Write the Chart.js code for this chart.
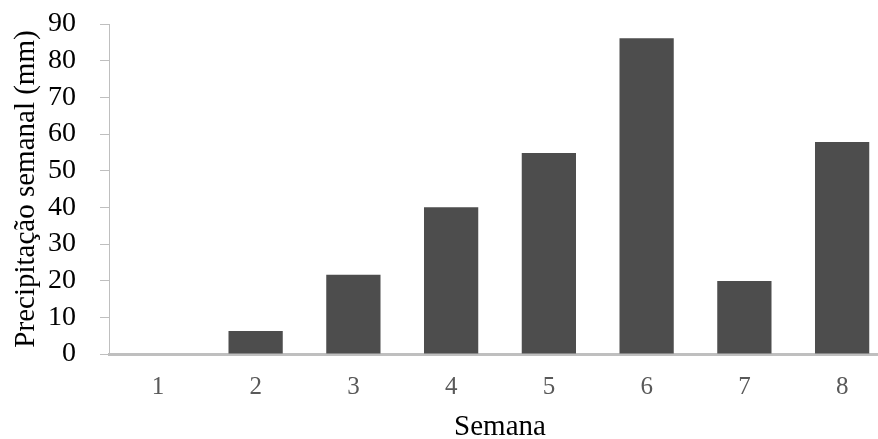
<!DOCTYPE html>
<html>
<head>
<meta charset="utf-8">
<script src="https://cdn.jsdelivr.net/npm/chart.js@4.4.0/dist/chart.umd.min.js"></script>
<style>
  html, body { margin: 0; padding: 0; background: #fff; overflow: hidden; }
  /* plot runs slightly past the right edge in the original, so clip a wider canvas */
  #wrap { width: 878px; height: 439px; overflow: hidden; }
</style>
</head>
<body>
<div id="wrap"><canvas id="chart" width="891" height="439"></canvas></div>
<script>
// Weekly rainfall data
const semanas = ['1', '2', '3', '4', '5', '6', '7', '8'];
const precipitacao = [0, 6.3, 21.6, 40, 54.8, 86.1, 19.9, 57.8];
const yMin = 0;
const yMax = 90;
const yStep = 10;

const serif = "'Liberation Serif', 'Times New Roman', serif";

const ctx = document.getElementById('chart').getContext('2d');
new Chart(ctx, {
    type: 'bar',
    data: {
        labels: semanas,
        datasets: [{
            data: precipitacao,
            backgroundColor: '#4d4d4d',
            barPercentage: 0.555,
            categoryPercentage: 1.0
        }]
    },
    options: {
        responsive: false,
        animation: false,
        layout: { padding: { top: 24, right: 0, bottom: 0, left: 0 } },
        plugins: {
            legend: { display: false },
            tooltip: { enabled: false }
        },
        scales: {
            x: {
                grid: { drawOnChartArea: false, drawTicks: false },
                border: { color: '#bfbfbf', width: 3 },
                ticks: {
                    color: '#595959',
                    font: { family: serif, size: 25 },
                    padding: 18
                },
                title: {
                    display: true,
                    text: 'Semana',
                    color: '#000',
                    font: { family: serif, size: 29 },
                    padding: { top: 0, bottom: -6 }
                },
                afterFit: (scale) => { scale.height = 85; }
            },
            y: {
                min: yMin,
                max: yMax,
                grid: { drawOnChartArea: false, drawTicks: true, tickLength: 9, color: '#bfbfbf' },
                border: { color: '#bfbfbf', width: 1 },
                ticks: {
                    stepSize: yStep,
                    autoSkip: false,
                    color: '#000',
                    font: { family: serif, size: 28 },
                    padding: 24
                },
                title: {
                    display: true,
                    text: 'Precipitação semanal (mm)',
                    color: '#000',
                    font: { family: serif, size: 29 },
                    padding: { top: 9, bottom: 0 }
                },
                afterFit: (scale) => {
                    scale.width = 109;
                    // the 24px tick padding would otherwise push the plot down
                    scale.paddingTop = 0;
                    scale.paddingBottom = 0;
                }
            }
        }
    }
});
</script>
</body>
</html>
